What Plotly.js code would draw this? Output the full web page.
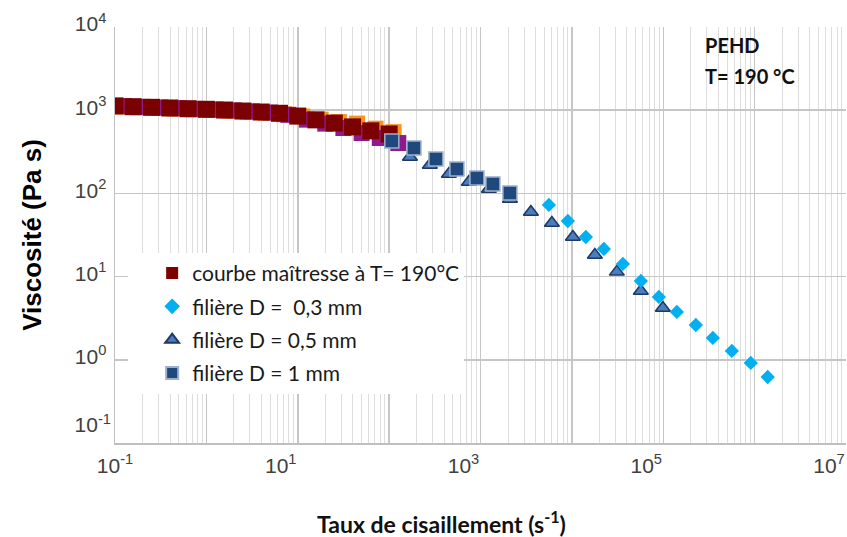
<!DOCTYPE html>
<html>
<head>
<meta charset="utf-8">
<script src="https://cdn.plot.ly/plotly-3.0.1.min.js"></script>
<style>html,body{margin:0;padding:0;background:#fff}#chart{width:847px;height:537px}</style>
</head>
<body>
<div id="chart"></div>
<script>
// ---- data ----
const seriesNames = ["courbe maîtresse à T= 190°C", "filière D = \u00a00,3 mm", "filière D = 0,5 mm", "filière D = 1 mm"];

// master curve (dark red) and the two partly hidden curves behind it
const masterX = [0.1, 0.158, 0.251, 0.398, 0.631, 1, 1.58, 2.51, 3.98, 6.31, 10, 15.8, 25.1, 39.8, 63.1, 100];
const masterY = [1127, 1102, 1083, 1063, 1042, 1025, 1005, 977, 951, 918, 850, 765, 700, 630, 565, 518];

const purpleX = [0.126, 0.2, 0.316, 0.5, 0.79, 1.26, 2.0, 3.16, 5.0, 7.9, 12.6, 20, 31.6, 50, 79, 126];
const purpleY = [1120, 1098, 1078, 1058, 1038, 1020, 995, 968, 938, 880, 770, 690, 611, 532, 463, 403];

const orangeX = [0.112, 0.178, 0.282, 0.447, 0.71, 1.12, 1.78, 2.82, 4.47, 7.1, 11.2, 17.8, 28.2, 44.7, 71, 112];
const orangeY = [1105, 1082, 1062, 1043, 1022, 1005, 985, 958, 930, 895, 840, 770, 720, 690, 600, 545];

// capillary dies
const d03X = [5600, 9040, 14220, 22390, 36130, 56850, 89500, 140900, 227400, 349000, 563000, 908000, 1390000];
const d03Y = [72.6, 46.6, 29.9, 21.5, 14.2, 8.85, 5.69, 3.76, 2.62, 1.83, 1.28, 0.916, 0.621];

const d05X = [169, 279, 451, 746, 1236, 2099, 3560, 6040, 10260, 17850, 31050, 56850, 99000];
const d05Y = [274, 219, 171, 137, 113, 85.7, 59.7, 44.1, 29.9, 18.2, 11.4, 6.71, 4.20];

const d1X = [107, 187, 325, 552, 914, 1368, 2099];
const d1Y = [427, 352, 259, 196, 153, 130, 101];

// ticks
const xDecades = [0.1, 1, 10, 100, 1000, 1e4, 1e5, 1e6, 1e7];
const xFirstLabelText = ["10<sup>-1</sup>"];
const xLabelVals = [10, 1000, 1e5, 1e7];
const xLabelText = ["10<sup>1</sup>", "10<sup>3</sup>", "10<sup>5</sup>", "10<sup>7</sup>"];
const yTickVals = [1, 10, 100, 1000, 10000];
const yTickText = ["10<sup>0</sup>", "10<sup>1</sup>", "10<sup>2</sup>", "10<sup>3</sup>", "10<sup>4</sup>"];
const yBottomVal = [0.1];
const yBottomText = ["10<sup>-1</sup>"];

// ---- traces ----
const traces = [
  {x: orangeX, y: orangeY, type: 'scatter', mode: 'markers', showlegend: false, hoverinfo: 'skip',
   marker: {symbol: 'square', size: 16, color: '#F7941D'}},
  {x: purpleX, y: purpleY, type: 'scatter', mode: 'markers', showlegend: false, hoverinfo: 'skip',
   marker: {symbol: 'square', size: 16, color: '#8E1A8E'}},
  {x: masterX, y: masterY, name: seriesNames[0], legendgroup: 'a', legendrank: 1, type: 'scatter', mode: 'markers',
   marker: {symbol: 'square', size: 17, color: '#7B0000'}},
  {x: d05X, y: d05Y, name: seriesNames[2], legendgroup: 'c', legendrank: 3, type: 'scatter', mode: 'markers',
   marker: {symbol: 'triangle-up', size: 13, color: '#4A7CC0', line: {color: '#1F3864', width: 1.5}}},
  {x: d1X, y: d1Y, name: seriesNames[3], legendgroup: 'd', legendrank: 4, type: 'scatter', mode: 'markers',
   marker: {symbol: 'square', size: 14, color: '#1F497D', line: {color: '#9DB0CB', width: 1.5}}},
  {x: d03X, y: d03Y, name: seriesNames[1], legendgroup: 'b', legendrank: 2, type: 'scatter', mode: 'markers',
   marker: {symbol: 'diamond', size: 11, color: '#00B0F0'}},
  // empty carriers for the overlay axes (major grid + labels)
  {x: [], y: [], xaxis: 'x2', type: 'scatter', mode: 'markers', showlegend: false, hoverinfo: 'skip'},
  {x: [], y: [], xaxis: 'x3', type: 'scatter', mode: 'markers', showlegend: false, hoverinfo: 'skip'},
  {x: [], y: [], yaxis: 'y2', type: 'scatter', mode: 'markers', showlegend: false, hoverinfo: 'skip'}
];

const tickFont = {family: 'Liberation Sans, Arial, sans-serif', size: 21, color: '#404040'};
const lblFont = {family: 'Lato, Open Sans, sans-serif', color: '#111111', weight: 'bold'};

const layout = {
  width: 847, height: 537,
  margin: {l: 115, r: 1, t: 27, b: 94},
  paper_bgcolor: '#ffffff', plot_bgcolor: '#ffffff',
  showlegend: true,
  xaxis: {
    type: 'log', range: [-1, 7], dtick: 'D1', showticklabels: false, ticks: '',
    showgrid: true, gridcolor: '#DDDDDD', gridwidth: 1, zeroline: false,
    showline: true, linecolor: '#BFBFBF', linewidth: 1.5
  },
  xaxis2: {
    type: 'log', range: [-1, 7], overlaying: 'x', side: 'bottom',
    tickmode: 'array', tickvals: xDecades,
    ticktext: xDecades.map((v, i) => (i === 0 ? xFirstLabelText[0] : '')),
    ticks: '', showgrid: true, gridcolor: '#C6C6C6', gridwidth: 1.5, zeroline: false,
    tickfont: tickFont, ticklabelstandoff: 8
  },
  xaxis3: {
    type: 'log', range: [-1, 7], overlaying: 'x', side: 'bottom',
    tickmode: 'array', tickvals: xLabelVals, ticktext: xLabelText,
    ticks: '', showgrid: false, zeroline: false,
    tickfont: tickFont, ticklabelstandoff: 8, ticklabelshift: -17, ticklabeloverflow: 'allow'
  },
  yaxis: {
    type: 'log', range: [-1, 4],
    tickmode: 'array', tickvals: yTickVals, ticktext: yTickText, ticks: '',
    showgrid: true, gridcolor: '#C6C6C6', gridwidth: 1.5, zeroline: false,
    showline: true, linecolor: '#BFBFBF', linewidth: 1.5,
    tickfont: tickFont, ticklabelstandoff: 3, ticklabelshift: -3,
    title: {text: 'Viscosité (Pa s)', standoff: 25,
      font: {family: 'Liberation Sans, Arial, sans-serif', size: 26, color: '#000000', weight: 'bold'}}
  },
  yaxis2: {
    type: 'log', range: [-1, 4], overlaying: 'y', side: 'left',
    tickmode: 'array', tickvals: yBottomVal, ticktext: yBottomText, ticks: '',
    showgrid: false, zeroline: false,
    tickfont: tickFont, ticklabelstandoff: 3, ticklabelshift: -18
  },
  legend: {
    x: 0.018, y: 0.457, xanchor: 'left', yanchor: 'top',
    bgcolor: '#ffffff', borderwidth: 0, indentation: 24,
    font: {family: 'Lato, Open Sans, sans-serif', size: 21, color: '#1a1a1a'},
    traceorder: 'grouped', tracegroupgap: 3, itemsizing: 'constant', itemwidth: 30
  },
  annotations: [
    {text: 'PEHD', xref: 'paper', yref: 'paper', x: 0.804, y: 0.957, xanchor: 'left', yanchor: 'middle',
     showarrow: false, font: Object.assign({size: 20}, lblFont)},
    {text: 'T= 190 °C', xref: 'paper', yref: 'paper', x: 0.804, y: 0.882, xanchor: 'left', yanchor: 'middle',
     showarrow: false, font: Object.assign({size: 20}, lblFont)},
    {text: 'Taux de cisaillement (s<sup>-1</sup>)', xref: 'paper', yref: 'paper', x: 0.447, y: -0.19,
     xanchor: 'center', yanchor: 'middle', showarrow: false, font: Object.assign({size: 23}, lblFont)}
  ]
};

Plotly.newPlot('chart', traces, layout, {staticPlot: true, displayModeBar: false});
</script>
</body>
</html>
